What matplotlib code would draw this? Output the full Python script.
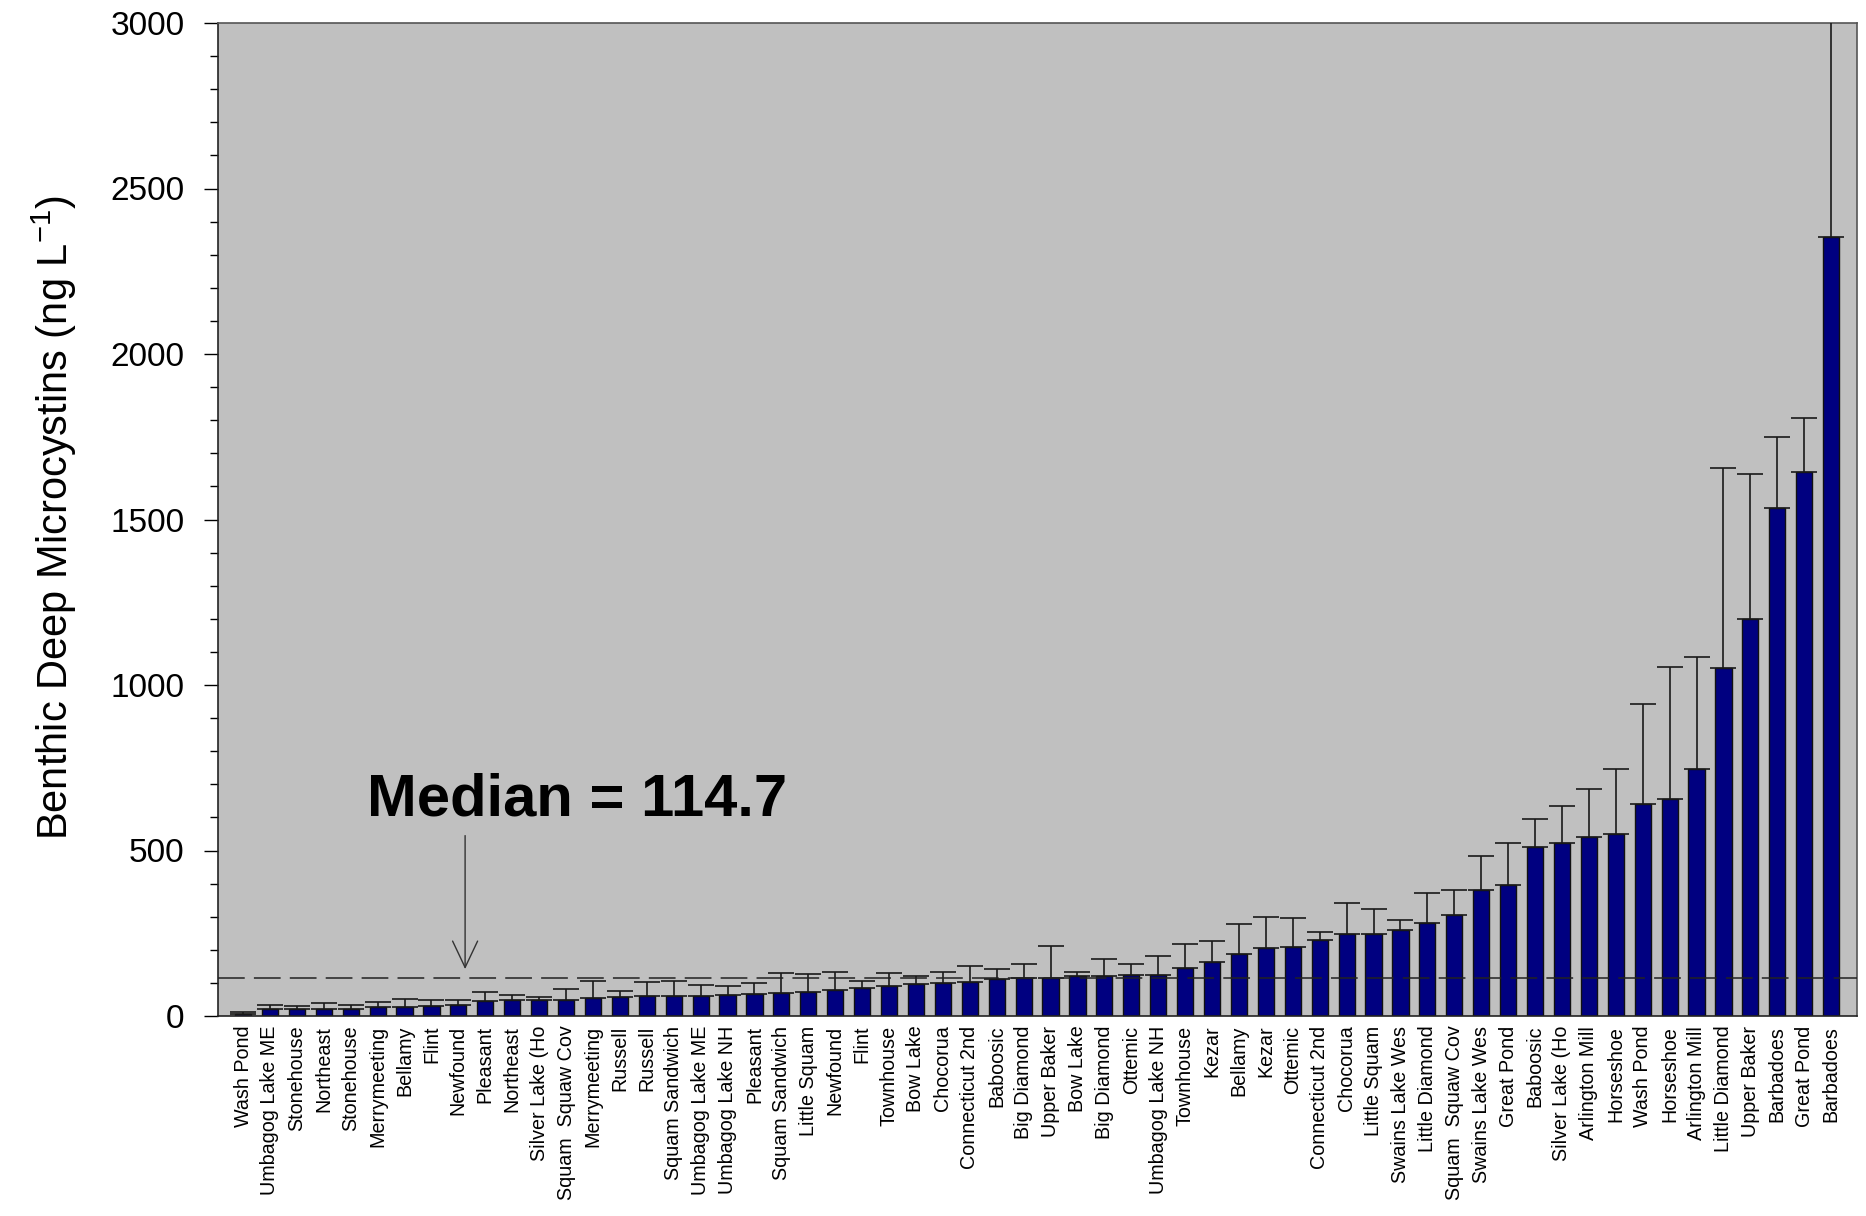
#!/usr/bin/env python

import numpy as np
import matplotlib
matplotlib.use("Agg")
import matplotlib.pyplot as plt
from matplotlib.ticker import MultipleLocator

plt.rcParams['font.family'] = ['Liberation Sans', 'DejaVu Sans']
plt.rcParams['mathtext.fontset'] = 'custom'
plt.rcParams['mathtext.rm'] = 'Liberation Sans'

# lakes, sorted by mean benthic deep microcystin concentration
lakes = [
    "Wash Pond", "Umbagog Lake ME", "Stonehouse", "Northeast", "Stonehouse",
    "Merrymeeting", "Bellamy", "Flint", "Newfound", "Pleasant",
    "Northeast", "Silver Lake (Ho", "Squam  Squaw Cov", "Merrymeeting", "Russell",
    "Russell", "Squam Sandwich", "Umbagog Lake ME", "Umbagog Lake NH", "Pleasant",
    "Squam Sandwich", "Little Squam", "Newfound", "Flint", "Townhouse",
    "Bow Lake", "Chocorua", "Connecticut 2nd", "Baboosic", "Big Diamond",
    "Upper Baker", "Bow Lake", "Big Diamond", "Ottemic", "Umbagog Lake NH",
    "Townhouse", "Kezar", "Bellamy", "Kezar", "Ottemic",
    "Connecticut 2nd", "Chocorua", "Little Squam", "Swains Lake Wes", "Little Diamond",
    "Squam  Squaw Cov", "Swains Lake Wes", "Great Pond", "Baboosic", "Silver Lake (Ho",
    "Arlington Mill", "Horseshoe", "Wash Pond", "Horseshoe", "Arlington Mill",
    "Little Diamond", "Upper Baker", "Barbadoes", "Great Pond", "Barbadoes",
]

mean_mc = [
    7, 22, 22, 22, 22, 26, 26, 30, 34, 46,
    49, 49, 49, 53, 56, 60, 60, 60, 64, 65,
    69, 74, 80, 84, 92, 96, 101, 103, 111, 113.4,
    116.0, 120, 120, 123, 123, 146, 162, 188, 204, 208,
    230, 248, 248, 259, 280, 306, 381, 396, 511, 522,
    540, 551, 641, 655, 745, 1050, 1199, 1534, 1645, 2352,
]

# upper standard error for each lake
se_mc = [
    4, 12, 7, 16, 12, 16, 26, 19, 15, 27,
    15, 7, 34, 52, 20, 42, 45, 34, 26, 35,
    61, 52, 54, 21, 38, 26, 33, 47, 31, 44,
    96, 14, 53, 34, 57, 73, 65, 89, 96, 88,
    25, 94, 76, 32, 91, 75, 101, 126, 83, 111,
    147, 194, 302, 400, 339, 606, 439, 216, 162, 1000,
]

median_mc = 114.7

x = np.arange(len(lakes))
lower = np.zeros(len(lakes))

fig = plt.figure(figsize=(18.66, 12.16), dpi=100)
ax = fig.add_axes([218 / 1866, 1 - 1016 / 1216, (1857 - 218) / 1866, (1016 - 23) / 1216])
ax.set_facecolor('#c0c0c0')

ax.bar(x, mean_mc, width=0.6, color='#000080', edgecolor='#111111', linewidth=1.0, zorder=2)
ax.errorbar(x, mean_mc, yerr=[lower, se_mc], fmt='none', ecolor='#1a1a1a',
            elinewidth=1.2, capsize=9.5, capthick=1.2, zorder=3)

ax.axhline(median_mc, color='#222222', linewidth=1.1, linestyle=(0, (17.5, 6)), zorder=4)

ax.text(12.41, 605, "Median = 114.7", ha='center', va='baseline',
        fontsize=43, fontweight='bold', color='black', zorder=5)
ax.annotate('', xy=(8.25, median_mc + 27), xytext=(8.25, 545),
            arrowprops=dict(arrowstyle='->,head_length=0.95,head_width=0.45',
                            mutation_scale=20, color='#333333', lw=1.0,
                            shrinkA=0, shrinkB=0), zorder=5)

ax.set_xlim(-0.93, 59.96)
ax.set_ylim(0, 3000)
ax.yaxis.set_major_locator(MultipleLocator(500))
ax.yaxis.set_minor_locator(MultipleLocator(100))
ax.tick_params(axis='y', which='major', direction='out', length=10, width=1.0,
               labelsize=24, pad=14)
ax.tick_params(axis='y', which='minor', direction='out', length=5.5, width=1.0)
ax.set_xticks(x)
ax.set_xticklabels(lakes, rotation=90, fontsize=14.2)
ax.tick_params(axis='x', length=0, pad=7)

for side in ['top', 'right']:
    ax.spines[side].set_color('#555555')
    ax.spines[side].set_linewidth(1.2)
for side in ['left', 'bottom']:
    ax.spines[side].set_color('#222222')
    ax.spines[side].set_linewidth(1.2)

fig.text(54 / 1866, 1 - 518 / 1216, r'Benthic Deep Microcystins (ng L$^{\mathregular{-1}}$)',
         rotation=90, ha='center', va='center', fontsize=30)

fig.savefig('out.png', dpi=100, facecolor='white')
plt.close(fig)
